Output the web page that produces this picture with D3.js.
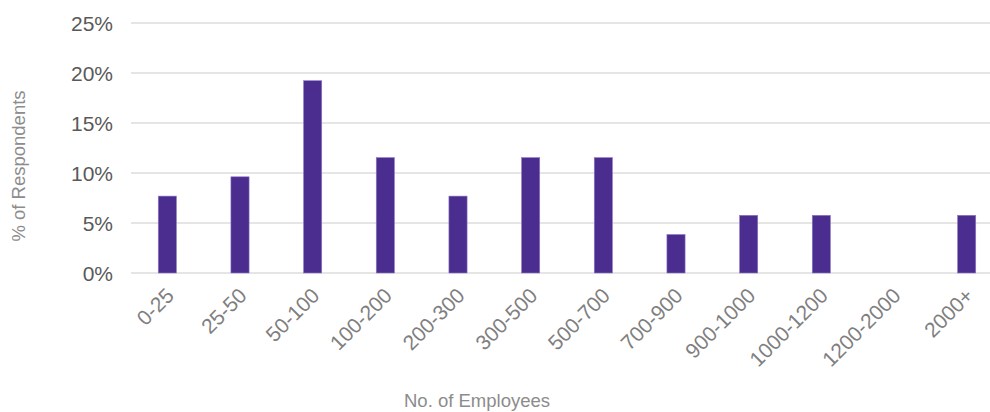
<!DOCTYPE html>
<html>
<head>
<meta charset="utf-8">
<script src="https://cdn.jsdelivr.net/npm/d3@7"></script>
<style>
  body { margin: 0; background: #fff; }
  text { font-family: "Liberation Sans", Arial, sans-serif; }
</style>
</head>
<body>
<div id="chart"></div>
<script>
// data
var categories = ["0-25", "25-50", "50-100", "100-200", "200-300", "300-500",
  "500-700", "700-900", "900-1000", "1000-1200", "1200-2000", "2000+"];
var respondents = [7.69, 9.62, 19.23, 11.54, 7.69, 11.54, 11.54, 3.85, 5.77, 5.77, 0, 5.77];
var yTicks = [0, 5, 10, 15, 20, 25];

var svgWidth = 990;
var svgHeight = 412;

var svg = d3.select("#chart")
  .append("svg")
  .attr("width", svgWidth)
  .attr("height", svgHeight);

// scales
var xScale = d3.scaleBand()
  .domain(categories)
  .range([131, 1003])
  .paddingInner(0.75)
  .paddingOuter(0.375);

var yScale = d3.scaleLinear()
  .domain([0, 25])
  .range([273, 23]);

// gridlines
svg.append("g")
  .selectAll("line")
  .data(yTicks)
  .enter()
  .append("line")
  .attr("x1", 131)
  .attr("x2", svgWidth)
  .attr("y1", d => yScale(d))
  .attr("y2", d => yScale(d))
  .attr("stroke", "#dcdcdc")
  .attr("stroke-width", 1.5);

// y axis
var leftAxis = d3.axisLeft(yScale)
  .tickValues(yTicks)
  .tickFormat(d => d + "%")
  .tickSize(0)
  .tickPadding(0);

var yAxisG = svg.append("g")
  .attr("transform", "translate(113, 0)")
  .call(leftAxis);
yAxisG.select(".domain").remove();
yAxisG.selectAll("text")
  .attr("dy", "0.36em")
  .style("font-size", "21px")
  .style("fill", "#595959");

// bars
svg.append("g")
  .selectAll("rect")
  .data(respondents)
  .enter()
  .append("rect")
  .attr("x", (d, i) => xScale(categories[i]))
  .attr("y", d => yScale(d))
  .attr("width", xScale.bandwidth())
  .attr("height", d => yScale(0) - yScale(d))
  .attr("fill", "#4b2d8f")
  .attr("stroke", "#8f7bc4")
  .attr("stroke-width", 0.6)
  .style("display", d => d > 0 ? null : "none");

// x axis
var bottomAxis = d3.axisBottom(xScale)
  .tickSize(0)
  .tickPadding(0);

var xAxisG = svg.append("g")
  .attr("transform", "translate(0, 273)")
  .call(bottomAxis);
xAxisG.select(".domain").remove();
xAxisG.selectAll("text")
  .attr("text-anchor", "end")
  .attr("dy", null)
  .attr("y", 0)
  .attr("transform", "translate(8, 24) rotate(-45)")
  .style("font-size", "21px")
  .style("fill", "#7f7f7f");

// axis titles
svg.append("text")
  .attr("transform", "translate(25, 166) rotate(-90)")
  .attr("text-anchor", "middle")
  .style("font-size", "18.5px")
  .style("fill", "#8c8c8c")
  .text("% of Respondents");

svg.append("text")
  .attr("x", 477)
  .attr("y", 407)
  .attr("text-anchor", "middle")
  .style("font-size", "18.5px")
  .style("fill", "#8c8c8c")
  .text("No. of Employees");
</script>
</body>
</html>
